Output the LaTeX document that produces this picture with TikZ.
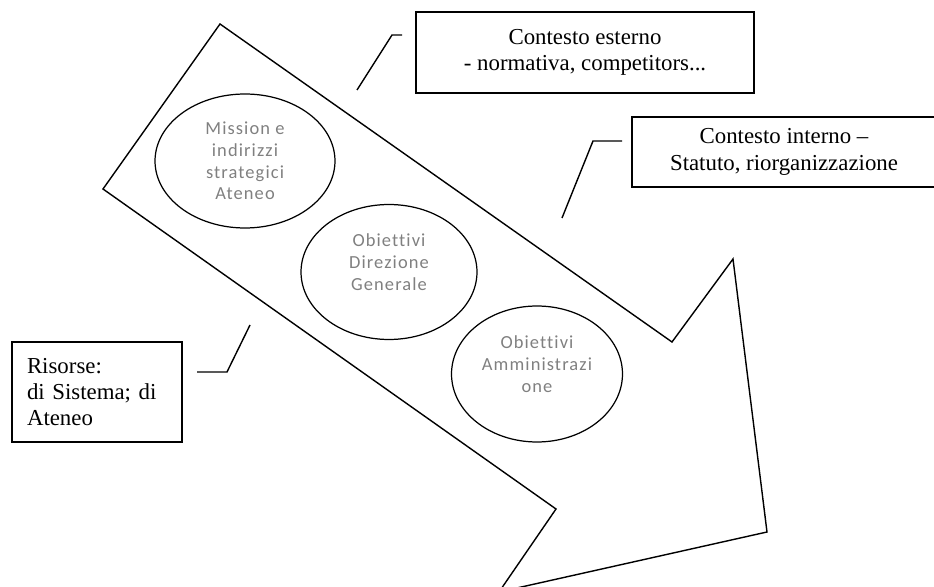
\documentclass[tikz,border=0pt]{standalone}
\usepackage{fontspec}
\setmainfont{Liberation Serif}
\newfontfamily\ovalfont[Ligatures=NoCommon, LetterSpace=6]{Carlito}
\usetikzlibrary{shapes.geometric}
\begin{document}
\begin{tikzpicture}[
        x=0.02cm, y=-0.02cm,
        box/.style={rectangle, draw, line width=1pt, font=\fontsize{13}{15}\selectfont, align=center},
        oval/.style={ellipse, draw, line width=0.7pt, font=\ovalfont\fontsize{10.5}{12.4}\selectfont, text=black!50, align=center, inner sep=0pt},
        leader/.style={draw, line width=0.8pt},
        arrowbody/.style={draw, line width=0.8pt, line join=miter}
    ]
        \useasboundingbox (0,0) rectangle (934,587);

        % freccia
        \draw[arrowbody] (220,24) -- (672,342) -- (733,259) -- (767,532)
            -- (499,592) -- (556,509) -- (103,189) -- cycle;

        % obiettivi
        \node[oval, minimum width=3.6cm, minimum height=2.68cm] (mission) at (245,161)
            {Mission e\\indirizzi\\strategici\\Ateneo};
        \node[oval, minimum width=3.52cm, minimum height=2.7cm, text depth=0.4cm] (direzione) at (389,272)
            {Obiettivi\\Direzione\\Generale};
        \node[oval, minimum width=3.42cm, minimum height=2.72cm, text depth=0.4cm] (amministrazione) at (537,374)
            {Obiettivi\\Amministrazi\\one};

        % contesti e risorse
        \node[box, minimum width=6.76cm, minimum height=1.62cm] (esterno) at (585,52.5)
            {Contesto esterno\\- normativa, competitors...};
        \node[box, minimum width=6.08cm, minimum height=1.4cm] (interno) at (784,152)
            {Contesto interno --\\Statuto, riorganizzazione};
        \node[box, minimum height=2cm, text width=2.8cm, inner xsep=0.3cm, align=left] (risorse) at (97,392)
            {Risorse:\\di Sistema; di\\Ateneo};

        % linee di richiamo
        \coordinate (esterno a) at (357,90);
        \coordinate (esterno b) at (392,35);
        \coordinate (esterno c) at (402,35);
        \coordinate (interno a) at (562,218);
        \coordinate (interno b) at (593,141);
        \coordinate (interno c) at (622,141);
        \coordinate (risorse a) at (197,372);
        \coordinate (risorse b) at (227,372);
        \coordinate (risorse c) at (250,325);
        \draw[leader] (esterno a) -- (esterno b) -- (esterno c);
        \draw[leader] (interno a) -- (interno b) -- (interno c);
        \draw[leader] (risorse a) -- (risorse b) -- (risorse c);
    \end{tikzpicture}
\end{document}
